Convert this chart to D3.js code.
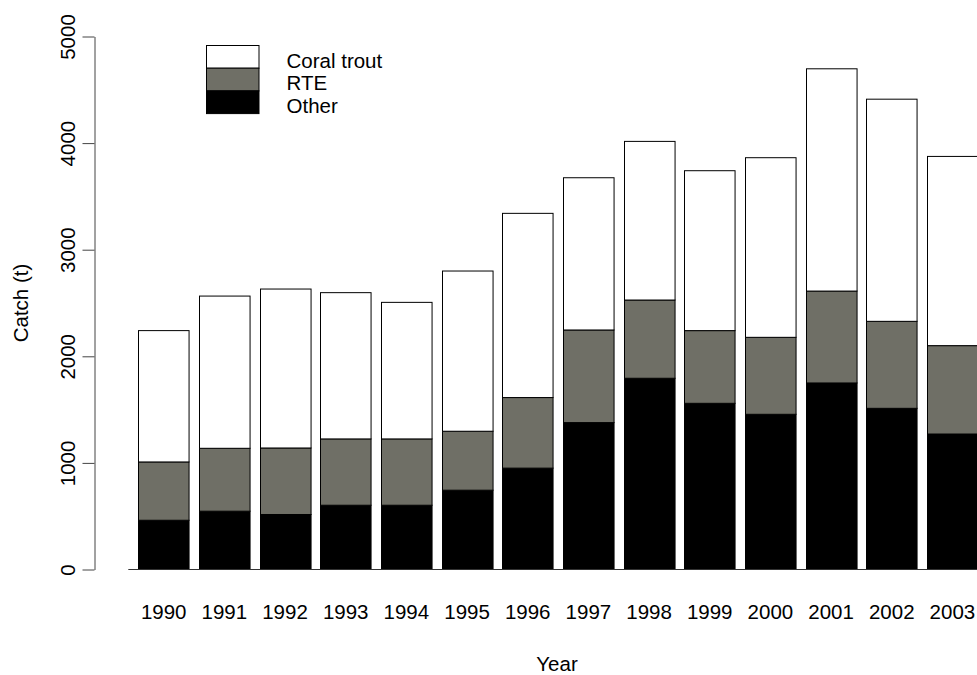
<!DOCTYPE html>
<html>
<head>
<meta charset="utf-8">
<script src="https://cdn.jsdelivr.net/npm/d3@7/dist/d3.min.js"></script>
<style>
  html, body { margin: 0; padding: 0; background: #fff; }
  svg { display: block; font-family: "Liberation Sans", Arial, sans-serif; }
</style>
</head>
<body>
<svg id="chart" width="977" height="675"></svg>
<script>
// ── Data ──────────────────────────────────────────────────
const years      = ['1990','1991','1992','1993','1994','1995','1996','1997','1998','1999','2000','2001','2002','2003'];
const other      = [462, 547, 516, 603, 603, 744, 951, 1378, 1794, 1559, 1456, 1750, 1512, 1271];
const rte        = [547, 590, 624, 622, 622, 553, 662, 869, 734, 682, 722, 862, 816, 829];
const coralTrout = [1232, 1428, 1491, 1372, 1281, 1503, 1728, 1428, 1488, 1500, 1685, 2085, 2084, 1775];
const yTicks     = [0, 1000, 2000, 3000, 4000, 5000];
const legendKeys = ['Coral trout', 'RTE', 'Other'];

// stacking order bottom → top
const keys   = ['Other', 'RTE', 'Coral trout'];
const colors = { 'Other': '#000000', 'RTE': '#6f6f66', 'Coral trout': '#ffffff' };

const rows = years.map((yr, i) => ({
  year: yr, 'Other': other[i], 'RTE': rte[i], 'Coral trout': coralTrout[i]
}));

// ── Setup ─────────────────────────────────────────────────
const svg = d3.select('#chart');
const FONT = 20.5;

const x = d3.scaleBand()
  .domain(years)
  .range([128.3, 987.8])
  .paddingInner(1 / 6)
  .paddingOuter(1 / 6);

const y = d3.scaleLinear()
  .domain([0, 5000])
  .range([569.5, 36.5]);

const stack = d3.stack().keys(keys)(rows);

// ── Bars ──────────────────────────────────────────────────
svg.append('g')
  .selectAll('g')
  .data(stack)
  .join('g')
  .attr('fill', d => colors[d.key])
  .selectAll('rect')
  .data(d => d)
  .join('rect')
  .attr('x', d => Math.round(x(d.data.year)) + 0.5)
  .attr('y', d => y(d[1]))
  .attr('width', x.bandwidth())
  .attr('height', d => y(d[0]) - y(d[1]))
  .attr('stroke', '#000')
  .attr('stroke-width', 1);

// baseline under the bars
svg.append('line')
  .attr('x1', x.range()[0]).attr('x2', x.range()[1])
  .attr('y1', y(0)).attr('y2', y(0))
  .attr('stroke', '#333').attr('stroke-width', 1);

// ── Y axis ────────────────────────────────────────────────
const yAxis = svg.append('g')
  .attr('transform', 'translate(94.5,0)')
  .call(d3.axisLeft(y).tickValues(yTicks).tickSize(12).tickSizeOuter(0).tickFormat(d3.format('d')));

yAxis.select('.domain').attr('stroke', '#444');
yAxis.selectAll('.tick line').attr('stroke', '#444');
yAxis.selectAll('.tick text')
  .attr('x', null).attr('dy', null)
  .attr('text-anchor', 'middle')
  .attr('transform', 'translate(-20,0) rotate(-90)')
  .attr('fill', '#000')
  .style('font-size', FONT + 'px')
  .style('font-family', '"Liberation Sans", Arial, sans-serif');

// ── X labels ──────────────────────────────────────────────
svg.append('g')
  .selectAll('text')
  .data(years)
  .join('text')
  .attr('x', d => x(d) + x.bandwidth() / 2)
  .attr('y', 619)
  .attr('text-anchor', 'middle')
  .style('font-size', FONT + 'px')
  .text(d => d);

// ── Axis titles ───────────────────────────────────────────
svg.append('text')
  .attr('x', 557).attr('y', 671)
  .attr('text-anchor', 'middle')
  .style('font-size', FONT + 'px')
  .text('Year');

svg.append('text')
  .attr('transform', `translate(28,${(y(0) + y(5000)) / 2}) rotate(-90)`)
  .attr('text-anchor', 'middle')
  .style('font-size', FONT + 'px')
  .text('Catch (t)');

// ── Legend ────────────────────────────────────────────────
const boxH = 22.7;
const legend = svg.append('g').attr('transform', 'translate(206.5,45.5)');

legend.selectAll('rect')
  .data(legendKeys)
  .join('rect')
  .attr('x', 0)
  .attr('y', (d, i) => i * boxH)
  .attr('width', 52.5)
  .attr('height', boxH)
  .attr('fill', d => colors[d])
  .attr('stroke', '#000');

legend.selectAll('text')
  .data(legendKeys)
  .join('text')
  .attr('x', 80)
  .attr('y', (d, i) => i * boxH + boxH / 2 + 10.8)
  .style('font-size', FONT + 'px')
  .text(d => d);
</script>
</body>
</html>
